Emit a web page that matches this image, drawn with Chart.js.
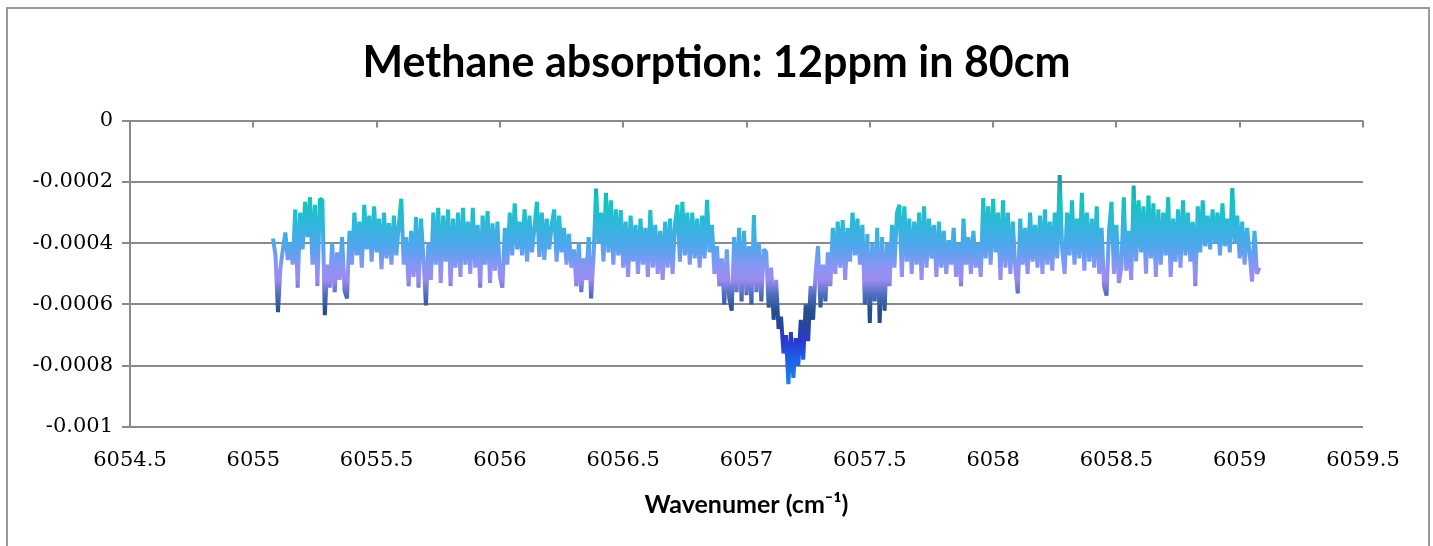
<!DOCTYPE html>
<html lang="en">
<head>
<meta charset="UTF-8">
<title>Methane absorption</title>
<script src="https://cdn.jsdelivr.net/npm/chart.js"></script>
<style>
  body { margin: 0; background: #fff; overflow: hidden; }
  .frame {
    position: absolute; left: 6px; top: 7px; width: 1424px; height: 600px;
    border: 2px solid #9a9a9a; box-sizing: border-box;
  }
  .chart-box { position: absolute; left: 0; top: 0; width: 1433px; height: 546px; }
</style>
</head>
<body>
<div class="frame"></div>
<div class="chart-box"><canvas id="methaneChart"></canvas></div>
<script>
// wavenumber, cm-1
const wavenumber = [
  6055.08, 6055.09, 6055.10, 6055.11, 6055.12, 6055.13, 6055.14, 6055.15, 6055.16, 6055.17,
  6055.18, 6055.19, 6055.20, 6055.21, 6055.22, 6055.23, 6055.24, 6055.25, 6055.26, 6055.27,
  6055.28, 6055.29, 6055.30, 6055.31, 6055.32, 6055.33, 6055.34, 6055.35, 6055.36, 6055.37,
  6055.38, 6055.39, 6055.40, 6055.41, 6055.42, 6055.43, 6055.44, 6055.45, 6055.46, 6055.47,
  6055.48, 6055.49, 6055.50, 6055.51, 6055.52, 6055.53, 6055.54, 6055.55, 6055.56, 6055.57,
  6055.58, 6055.59, 6055.60, 6055.61, 6055.62, 6055.63, 6055.64, 6055.65, 6055.66, 6055.67,
  6055.68, 6055.69, 6055.70, 6055.71, 6055.72, 6055.73, 6055.74, 6055.75, 6055.76, 6055.77,
  6055.78, 6055.79, 6055.80, 6055.81, 6055.82, 6055.83, 6055.84, 6055.85, 6055.86, 6055.87,
  6055.88, 6055.89, 6055.90, 6055.91, 6055.92, 6055.93, 6055.94, 6055.95, 6055.96, 6055.97,
  6055.98, 6055.99, 6056.00, 6056.01, 6056.02, 6056.03, 6056.04, 6056.05, 6056.06, 6056.07,
  6056.08, 6056.09, 6056.10, 6056.11, 6056.12, 6056.13, 6056.14, 6056.15, 6056.16, 6056.17,
  6056.18, 6056.19, 6056.20, 6056.21, 6056.22, 6056.23, 6056.24, 6056.25, 6056.26, 6056.27,
  6056.28, 6056.29, 6056.30, 6056.31, 6056.32, 6056.33, 6056.34, 6056.35, 6056.36, 6056.37,
  6056.38, 6056.39, 6056.40, 6056.41, 6056.42, 6056.43, 6056.44, 6056.45, 6056.46, 6056.47,
  6056.48, 6056.49, 6056.50, 6056.51, 6056.52, 6056.53, 6056.54, 6056.55, 6056.56, 6056.57,
  6056.58, 6056.59, 6056.60, 6056.61, 6056.62, 6056.63, 6056.64, 6056.65, 6056.66, 6056.67,
  6056.68, 6056.69, 6056.70, 6056.71, 6056.72, 6056.73, 6056.74, 6056.75, 6056.76, 6056.77,
  6056.78, 6056.79, 6056.80, 6056.81, 6056.82, 6056.83, 6056.84, 6056.85, 6056.86, 6056.87,
  6056.88, 6056.89, 6056.90, 6056.91, 6056.92, 6056.93, 6056.94, 6056.95, 6056.96, 6056.97,
  6056.98, 6056.99, 6057.00, 6057.01, 6057.02, 6057.03, 6057.04, 6057.05, 6057.06, 6057.07,
  6057.08, 6057.09, 6057.10, 6057.11, 6057.12, 6057.13, 6057.14, 6057.15, 6057.16, 6057.17,
  6057.18, 6057.19, 6057.20, 6057.21, 6057.22, 6057.23, 6057.24, 6057.25, 6057.26, 6057.27,
  6057.28, 6057.29, 6057.30, 6057.31, 6057.32, 6057.33, 6057.34, 6057.35, 6057.36, 6057.37,
  6057.38, 6057.39, 6057.40, 6057.41, 6057.42, 6057.43, 6057.44, 6057.45, 6057.46, 6057.47,
  6057.48, 6057.49, 6057.50, 6057.51, 6057.52, 6057.53, 6057.54, 6057.55, 6057.56, 6057.57,
  6057.58, 6057.59, 6057.60, 6057.61, 6057.62, 6057.63, 6057.64, 6057.65, 6057.66, 6057.67,
  6057.68, 6057.69, 6057.70, 6057.71, 6057.72, 6057.73, 6057.74, 6057.75, 6057.76, 6057.77,
  6057.78, 6057.79, 6057.80, 6057.81, 6057.82, 6057.83, 6057.84, 6057.85, 6057.86, 6057.87,
  6057.88, 6057.89, 6057.90, 6057.91, 6057.92, 6057.93, 6057.94, 6057.95, 6057.96, 6057.97,
  6057.98, 6057.99, 6058.00, 6058.01, 6058.02, 6058.03, 6058.04, 6058.05, 6058.06, 6058.07,
  6058.08, 6058.09, 6058.10, 6058.11, 6058.12, 6058.13, 6058.14, 6058.15, 6058.16, 6058.17,
  6058.18, 6058.19, 6058.20, 6058.21, 6058.22, 6058.23, 6058.24, 6058.25, 6058.26, 6058.27,
  6058.28, 6058.29, 6058.30, 6058.31, 6058.32, 6058.33, 6058.34, 6058.35, 6058.36, 6058.37,
  6058.38, 6058.39, 6058.40, 6058.41, 6058.42, 6058.43, 6058.44, 6058.45, 6058.46, 6058.47,
  6058.48, 6058.49, 6058.50, 6058.51, 6058.52, 6058.53, 6058.54, 6058.55, 6058.56, 6058.57,
  6058.58, 6058.59, 6058.60, 6058.61, 6058.62, 6058.63, 6058.64, 6058.65, 6058.66, 6058.67,
  6058.68, 6058.69, 6058.70, 6058.71, 6058.72, 6058.73, 6058.74, 6058.75, 6058.76, 6058.77,
  6058.78, 6058.79, 6058.80, 6058.81, 6058.82, 6058.83, 6058.84, 6058.85, 6058.86, 6058.87,
  6058.88, 6058.89, 6058.90, 6058.91, 6058.92, 6058.93, 6058.94, 6058.95, 6058.96, 6058.97,
  6058.98, 6058.99, 6059.00, 6059.01, 6059.02, 6059.03, 6059.04, 6059.05, 6059.06, 6059.07,
  6059.08
];

// absorbance, in units of 1e-6
const absorbanceMicro = [
  -385, -440, -625, -480, -420, -365, -455, -400, -470, -290,
  -545, -300, -420, -265, -380, -250, -470, -275, -540, -255,
  -260, -635, -470, -545, -400, -560, -430, -520, -380, -555,
  -580, -360, -470, -300, -440, -330, -480, -275, -420, -310,
  -460, -280, -430, -320, -485, -300, -450, -335, -470, -310,
  -440, -340, -255, -470, -380, -540, -360, -510, -315, -545,
  -320, -450, -603, -400, -520, -300, -470, -285, -530, -310,
  -460, -290, -540, -320, -480, -300, -510, -285, -470, -330,
  -500, -285, -480, -340, -545, -310, -470, -295, -530, -335,
  -490, -330, -510, -545, -350, -470, -300, -440, -270, -420,
  -330, -440, -290, -460, -310, -430, -350, -265, -445, -300,
  -455, -320, -420, -340, -290, -460, -310, -430, -350, -470,
  -370, -480, -420, -540, -400, -560, -450, -520, -380, -580,
  -440, -222, -400, -300, -460, -236, -430, -260, -470, -290,
  -440, -292, -480, -330, -510, -310, -460, -340, -500, -320,
  -470, -350, -510, -292, -480, -340, -500, -360, -520, -330,
  -480, -320, -500, -340, -275, -460, -265, -440, -300, -470,
  -300, -450, -320, -480, -310, -450, -259, -430, -340, -500,
  -410, -540, -450, -600, -420, -580, -620, -380, -560, -350,
  -590, -360, -570, -410, -600, -308, -560, -400, -590, -420,
  -430, -610, -480, -650, -520, -680, -640, -760, -700, -860,
  -690, -840, -710, -800, -650, -780, -600, -720, -540, -650,
  -500, -410, -610, -470, -590, -430, -540, -350, -500, -330,
  -480, -325, -520, -350, -460, -300, -440, -320, -470, -340,
  -600, -370, -660, -400, -590, -350, -660, -380, -620, -400,
  -540, -340, -480, -300, -275, -510, -280, -460, -320, -500,
  -330, -470, -300, -520, -280, -480, -320, -450, -340, -510,
  -330, -480, -360, -500, -390, -470, -350, -510, -400, -540,
  -320, -470, -380, -500, -360, -480, -400, -510, -253, -450,
  -280, -470, -255, -430, -300, -520, -260, -480, -300, -500,
  -330, -480, -564, -320, -470, -350, -500, -300, -460, -340,
  -480, -310, -500, -290, -470, -330, -490, -300, -450, -178,
  -420, -500, -300, -440, -260, -470, -320, -450, -236, -490,
  -300, -460, -320, -480, -280, -500, -350, -540, -571, -360,
  -265, -500, -340, -530, -480, -250, -490, -360, -520, -212,
  -460, -260, -430, -280, -500, -245, -450, -270, -510, -290,
  -470, -300, -440, -250, -510, -320, -460, -290, -480, -260,
  -440, -300, -460, -330, -540, -280, -430, -260, -410, -310,
  -420, -290, -400, -300, -440, -270, -410, -320, -430, -220,
  -400, -310, -450, -330, -470, -350, -430, -525, -360, -500,
  -480
];

const xTickLabels = ['6054.5', '6055', '6055.5', '6056', '6056.5', '6057', '6057.5', '6058', '6058.5', '6059', '6059.5'];
const yTickLabels = ['-0.001', '-0.0008', '-0.0006', '-0.0004', '-0.0002', '0'];

const chartTitle = 'Methane absorption: 12ppm in 80cm';
const xTitle = 'Wavenumer (cm\u207B\u00B9)';

// colour of the trace by absorbance level
const colourStops = [
  [-0.00018, '#1f9aa6'],
  [-0.00026, '#14c4bc'],
  [-0.00033, '#2cb9d8'],
  [-0.00041, '#50a6ee'],
  [-0.00048, '#8c94f4'],
  [-0.00052, '#9a8cf0'],
  [-0.00057, '#4e6cc0'],
  [-0.00062, '#24508c'],
  [-0.00067, '#28449c'],
  [-0.00072, '#2a3ad0'],
  [-0.00078, '#1e60e6'],
  [-0.00087, '#1c86f0']
];

const absorbance = absorbanceMicro.map(v => v * 1e-6);

let gradCache = null;
function traceColour(context) {
  const chart = context.chart;
  const area = chart.chartArea;
  if (!area) return '#50a6ee';
  const y = chart.scales.y;
  const key = area.top + ':' + area.bottom;
  if (gradCache && gradCache.key === key) return gradCache.grad;
  const y0 = y.getPixelForValue(colourStops[0][0]);
  const y1 = y.getPixelForValue(colourStops[colourStops.length - 1][0]);
  const grad = chart.ctx.createLinearGradient(0, y0, 0, y1);
  colourStops.forEach(([v, c]) => {
    grad.addColorStop((y.getPixelForValue(v) - y0) / (y1 - y0), c);
  });
  gradCache = { key, grad };
  return grad;
}

// small tick marks hanging from the zero line (the axis crossing)
const topTicks = {
  id: 'topTicks',
  afterDatasetsDraw(chart) {
    const { ctx, chartArea, scales } = chart;
    ctx.save();
    ctx.strokeStyle = '#8a8a8a';
    ctx.lineWidth = 2;
    scales.x.ticks.forEach(t => {
      const px = Math.round(scales.x.getPixelForValue(t.value));
      ctx.beginPath();
      ctx.moveTo(px, chartArea.top);
      ctx.lineTo(px, chartArea.top + 7);
      ctx.stroke();
    });
    ctx.restore();
  }
};

const tickFont = { family: 'DejaVu Serif', size: 21 };

new Chart(document.getElementById('methaneChart'), {
  type: 'line',
  data: {
    labels: wavenumber,
    datasets: [{
      data: absorbance,
      borderColor: traceColour,
      borderWidth: 4,
      borderJoinStyle: 'bevel',
      pointRadius: 0,
      tension: 0,
      fill: false
    }]
  },
  options: {
    responsive: true,
    maintainAspectRatio: false,
    animation: false,
    layout: { padding: 0 },
    plugins: {
      legend: { display: false },
      tooltip: { enabled: false },
      title: {
        display: true,
        text: chartTitle,
        color: '#000',
        font: { family: 'Lato', size: 43, weight: 'bold' },
        padding: { top: 37, bottom: 32 }
      }
    },
    scales: {
      x: {
        type: 'linear',
        min: 6054.5,
        max: 6059.5,
        grid: { display: false, drawTicks: false },
        border: { display: false },
        ticks: {
          stepSize: 0.5,
          autoSkip: false,
          maxRotation: 0,
          padding: 21,
          color: '#000',
          font: tickFont,
          callback: (v, i) => xTickLabels[i]
        },
        title: {
          display: true,
          text: xTitle,
          color: '#000',
          font: { family: 'Lato', size: 25, weight: 'bold' },
          padding: { top: 0, bottom: 26 }
        },
        afterFit: s => { s.height = 119; }
      },
      y: {
        min: -0.001,
        max: 0,
        grid: { color: '#8a8a8a', lineWidth: 2, drawTicks: true, tickLength: 8 },
        border: { display: true, color: '#8a8a8a', width: 2 },
        ticks: {
          stepSize: 0.0002,
          padding: 9,
          color: '#000',
          font: tickFont,
          callback: (v, i) => yTickLabels[i]
        },
        afterFit: s => { s.width = 130; }
      },
      // empty right-hand box so the plot ends where the reference does
      spacer: {
        type: 'linear',
        position: 'right',
        grid: { display: false },
        border: { display: false },
        ticks: { display: false },
        afterFit: s => { s.width = 70; }
      }
    }
  },
  plugins: [topTicks]
});
</script>
</body>
</html>
